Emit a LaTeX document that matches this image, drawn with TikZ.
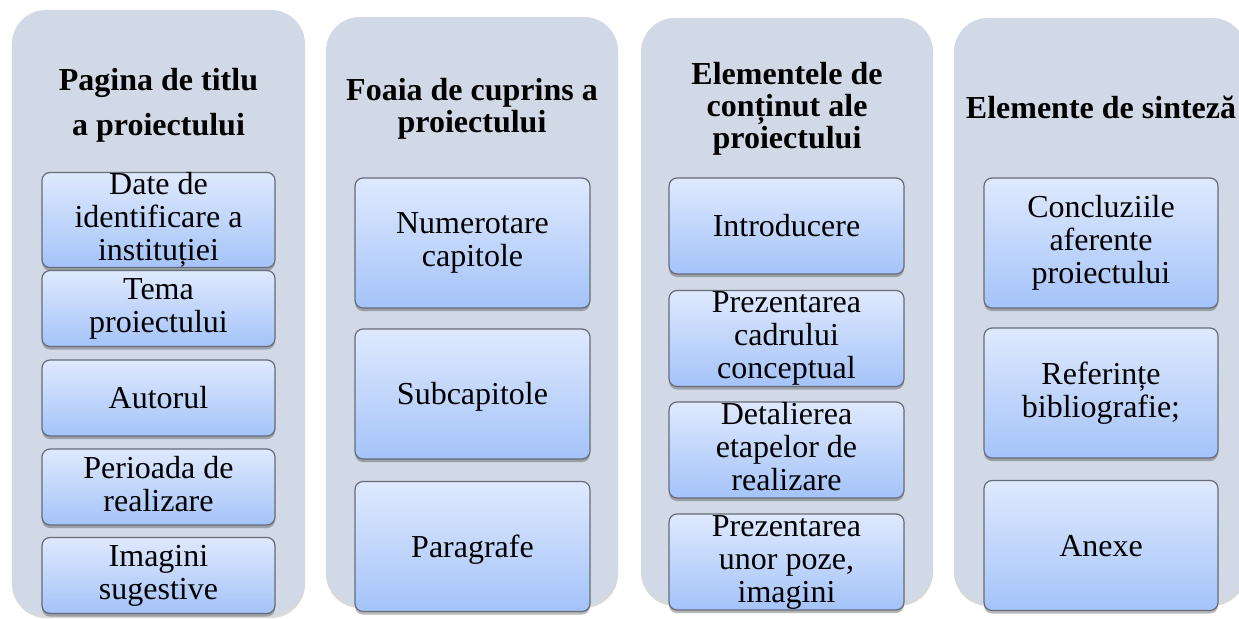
\documentclass[tikz,border=0pt]{standalone}
\usepackage{fontspec}
\setmainfont{Liberation Serif}
\usetikzlibrary{shadows}
\definecolor{panelfill}{HTML}{D1D8E6}
\definecolor{boxtop}{HTML}{DFE9FD}
\definecolor{boxbot}{HTML}{A4C3F9}
\definecolor{boxline}{HTML}{666C78}
\newcommand\pptstrut{\rule[-0.216em]{0pt}{1.107em}}
\tikzset{
  panel/.style={draw=none, fill=panelfill, rounded corners=17bp, inner sep=0pt,
    drop shadow={shadow xshift=0bp, shadow yshift=-1.5bp, opacity=0.25, fill=black!60}},
  itembox/.style={draw=boxline, line width=0.6bp, rounded corners=4bp, inner sep=0pt,
    top color=boxtop, bottom color=boxbot, align=center,
    font=\fontsize{16bp}{16.5bp}\selectfont,
    execute at begin node=\pptstrut, execute at end node=\pptstrut,
    drop shadow={shadow xshift=0bp, shadow yshift=-1.5bp, opacity=0.4, fill=black!70}},
  title/.style={align=center, inner sep=0pt, font=\fontsize{16bp}{16bp}\selectfont\bfseries,
    execute at begin node=\pptstrut, execute at end node=\pptstrut},
}
\begin{document}
\begin{tikzpicture}[x=0.5bp,y=-0.5bp]
\useasboundingbox (0,0) rectangle (1239,619);
\clip (0,0) rectangle (1239,619);
% panels
\node[panel, minimum width=146.5bp, minimum height=302.5bp] (p1) at (158.5,312.5) {};
\node[panel, minimum width=146bp, minimum height=294bp] (p2) at (472,311) {};
\node[panel, minimum width=146bp, minimum height=292.5bp] (p3) at (787,310.5) {};
\node[panel, minimum width=146bp, minimum height=292.5bp] (p4) at (1100,310.5) {};
% titles
\node[title, font=\fontsize{16bp}{22.5bp}\selectfont\bfseries] (t1) at (158.5,105.5) {Pagina de titlu\\a proiectului};
\node[title] (t2) at (472,109) {Foaia de cuprins a\\proiectului};
\node[title] (t3) at (787,109) {Elementele de\\conținut ale\\proiectului};
\node[title] (t4) at (1101,108) {Elemente de sinteză};
% column 1
\begin{scope}[every node/.style={itembox, minimum width=116.5bp, minimum height=38bp}]
\node (a1) at (158.5,220) {Date de\\identificare a\\instituției};
\node (a2) at (158.5,308.5) {Tema\\proiectului};
\node (a3) at (158.5,398) {Autorul};
\node (a4) at (158.5,487) {Perioada de\\realizare};
\node (a5) at (158.5,575.5) {Imagini\\sugestive};
\end{scope}
% column 2
\begin{scope}[every node/.style={itembox, minimum width=117.5bp, minimum height=65bp}]
\node (b1) at (472.5,243) {Numerotare\\capitole};
\node (b2) at (472.5,394) {Subcapitole};
\node (b3) at (472.5,546.5) {Paragrafe};
\end{scope}
% column 3
\begin{scope}[every node/.style={itembox, minimum width=117.5bp, minimum height=48bp}]
\node (c1) at (786.5,226) {Introducere};
\node (c2) at (786.5,338.5) {Prezentarea\\cadrului\\conceptual};
\node (c3) at (786.5,450) {Detalierea\\etapelor de\\realizare};
\node (c4) at (786.5,562) {Prezentarea\\unor poze,\\imagini};
\end{scope}
% column 4
\begin{scope}[every node/.style={itembox, minimum width=117bp, minimum height=65bp}]
\node (d1) at (1101,243) {Concluziile\\aferente\\proiectului};
\node (d2) at (1101,393) {Referințe\\bibliografie;};
\node (d3) at (1101,545.5) {Anexe};
\end{scope}
\end{tikzpicture}
\end{document}
